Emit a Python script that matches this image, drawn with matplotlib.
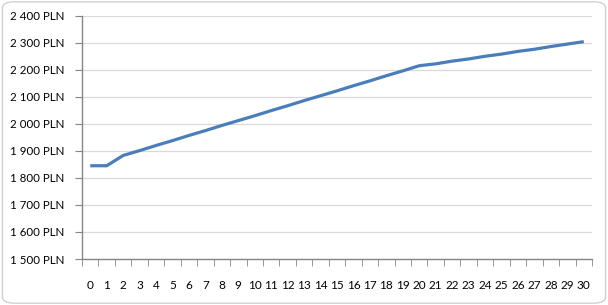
import matplotlib
matplotlib.use("Agg")
import matplotlib.pyplot as plt
from matplotlib.patches import FancyBboxPatch
from matplotlib.ticker import FuncFormatter

categories = list(range(31))
values = [1845, 1845, 1883, 1901, 1920, 1938, 1957, 1975, 1994, 2012, 2030,
          2049, 2067, 2086, 2104, 2122, 2141, 2159, 2178, 2196, 2215,
          2222, 2232, 2240, 2250, 2258, 2268, 2276, 2286, 2295, 2304]
y_ticks = [1500, 1600, 1700, 1800, 1900, 2000, 2100, 2200, 2300, 2400]

plt.rcParams['font.family'] = ['Lato', 'DejaVu Sans']

fig = plt.figure(figsize=(6.08, 3.05), dpi=100)
fig.patch.set_facecolor('white')
border = FancyBboxPatch((0.004, 0.006), 0.992, 0.988,
                        boxstyle="round,pad=0,rounding_size=0.02",
                        transform=fig.transFigure, facecolor='white',
                        edgecolor='#d0d0d0', linewidth=1.0, zorder=-10)
fig.patches.append(border)

ax = fig.add_axes([0.1349, 0.1508, 0.8388, 0.7977])
ax.set_facecolor('none')
ax.plot(categories, values, color='#4a7ebb', linewidth=2.3, solid_capstyle='butt', zorder=3)

ax.set_xlim(-0.5, 30.5)
ax.set_ylim(1500, 2400)
ax.set_yticks(y_ticks)
ax.yaxis.set_major_formatter(FuncFormatter(lambda v, p: f"{int(v):,}".replace(",", " ") + " PLN"))
ax.set_xticks(categories)
ax.set_xticklabels([str(c) for c in categories])
ax.set_xticks([c - 0.5 for c in categories] + [30.5], minor=True)

ax.grid(axis='y', color='#d9d9d9', linewidth=0.9, zorder=0)
ax.set_axisbelow(True)
for s in ['top', 'right']:
    ax.spines[s].set_visible(False)
for s in ['left', 'bottom']:
    ax.spines[s].set_color('#868686')
    ax.spines[s].set_linewidth(1.0)

ax.tick_params(axis='y', which='major', length=5, color='#868686', labelsize=8.3, pad=8, labelcolor='#000000')
ax.tick_params(axis='x', which='major', length=0, labelsize=8.5, pad=15, labelcolor='#000000')
ax.tick_params(axis='x', which='minor', length=5, color='#868686')

fig.savefig('out.png', dpi=100, facecolor='white')
